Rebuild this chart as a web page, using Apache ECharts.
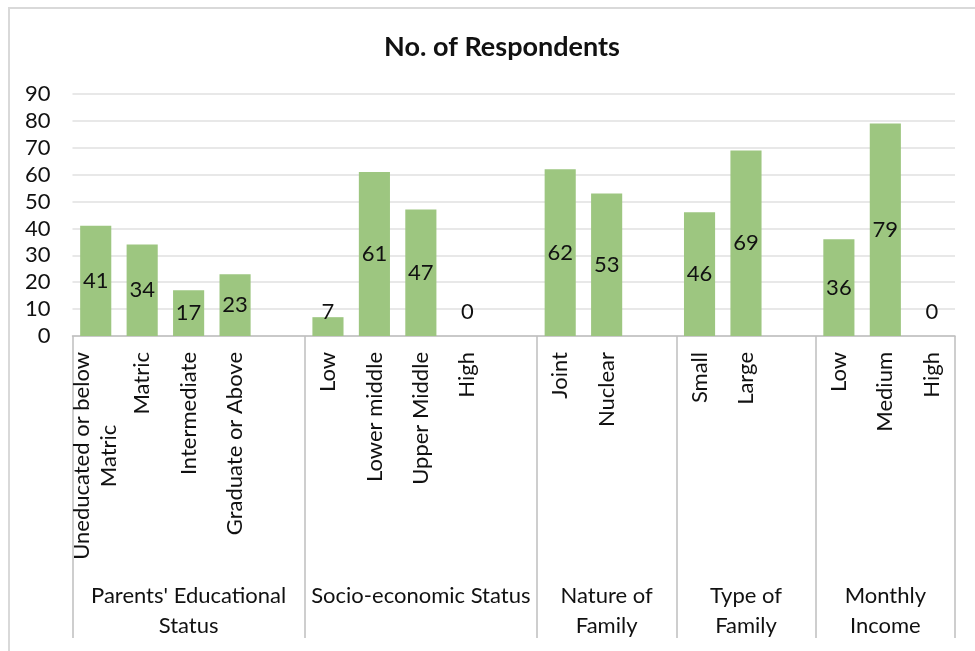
<!DOCTYPE html>
<html>
<head>
<meta charset="utf-8">
<script src="https://cdn.jsdelivr.net/npm/echarts@6/dist/echarts.min.js"></script>
<style>
  html, body { margin: 0; padding: 0; background: #fff; }
  #frame { position: absolute; left: 8px; top: 7px; width: 1200px; height: 900px;
           border-left: 2px solid #d9d9d9; border-top: 2px solid #d9d9d9; box-sizing: border-box; }
  #chart { position: absolute; left: 0; top: 0; width: 975px; height: 651px; }
</style>
</head>
<body>
<div id="frame"></div>
<div id="chart"></div>
<script>
// Survey breakdown: number of respondents per category
const groupNames = ["Parents' Educational\nStatus", "Socio-economic Status", "Nature of\nFamily", "Type of\nFamily", "Monthly\nIncome"];

const educationLabels = ['Uneducated or below\nMatric', 'Matric', 'Intermediate', 'Graduate or Above'];
const educationCounts = [41, 34, 17, 23];

const socioLabels = ['Low', 'Lower middle', 'Upper Middle', 'High'];
const socioCounts = [7, 61, 47, 0];

const natureLabels = ['Joint', 'Nuclear'];
const natureCounts = [62, 53];

const typeLabels = ['Small', 'Large'];
const typeCounts = [46, 69];

const incomeLabels = ['Low', 'Medium', 'High'];
const incomeCounts = [36, 79, 0];

const yTicks = [0, 10, 20, 30, 40, 50, 60, 70, 80, 90];

// Build one flat category list; each group except the last is followed by a blank slot
const groups = [
  [educationLabels, educationCounts],
  [socioLabels, socioCounts],
  [natureLabels, natureCounts],
  [typeLabels, typeCounts],
  [incomeLabels, incomeCounts]
];
const categories = [];
const values = [];
const groupStarts = [];
const groupMid = {};
groups.forEach(function (g, gi) {
  const start = categories.length;
  groupStarts.push(start);
  g[0].forEach(function (name, i) { categories.push(name); values.push(g[1][i]); });
  if (gi < groups.length - 1) { categories.push(''); values.push('-'); }
  const span = categories.length - start;
  groupMid[start + Math.floor(span / 2)] = groupNames[gi];
});

const FONT = 'Lato';
const TEXT = '#111';
const LINE = '#bfbfbf';

const chart = echarts.init(document.getElementById('chart'), null, { renderer: 'canvas' });
chart.setOption({
  animation: false,
  backgroundColor: 'transparent',
  textStyle: { fontFamily: FONT },
  title: {
    text: 'No. of Respondents',
    left: 497,
    top: 29,
    textAlign: 'center',
    textStyle: { fontFamily: FONT, fontSize: 27, fontWeight: 'bold', color: TEXT }
  },
  grid: { left: 72.5, right: 20, top: 94, bottom: 315, containLabel: false },
  xAxis: [
    {
      type: 'category',
      data: categories,
      position: 'bottom',
      axisLine: { lineStyle: { color: LINE, width: 1.5 } },
      axisTick: {
        show: true,
        length: 302,
        interval: function (index) { return groupStarts.indexOf(index) !== -1; },
        lineStyle: { color: LINE, width: 1.5 }
      },
      axisLabel: {
        interval: 0,
        rotate: 90,
        margin: 16,
        fontFamily: FONT,
        fontSize: 22,
        color: TEXT,
        lineHeight: 27,
        formatter: function (v) {
          return v ? v.split('\n').map(function (s) { return '{c|' + s + '}'; }).join('\n') : '';
        },
        rich: { c: { align: 'center', fontFamily: FONT, fontSize: 22, color: TEXT, lineHeight: 27 } }
      }
    },
    {
      type: 'category',
      data: categories,
      position: 'bottom',
      axisLine: { show: false },
      axisTick: { show: false },
      axisLabel: {
        interval: 0,
        margin: 245,
        fontFamily: FONT,
        fontSize: 22,
        color: TEXT,
        lineHeight: 30,
        align: 'center',
        formatter: function (v, i) { return groupMid[i] || ''; }
      }
    }
  ],
  yAxis: {
    type: 'value',
    min: yTicks[0],
    max: yTicks[yTicks.length - 1],
    interval: 10,
    axisLine: { show: false },
    axisTick: { show: false },
    splitLine: { lineStyle: { color: '#e0e0e0', width: 1.5 } },
    axisLabel: { margin: 22, fontFamily: FONT, fontSize: 22, color: TEXT }
  },
  series: [{
    type: 'bar',
    xAxisIndex: 0,
    data: values.map(function (v) {
      if (v !== '-' && v < 10) {
        return { value: v, label: { position: 'insideBottom', distance: 13 } };
      }
      return v;
    }),
    barWidth: '67%',
    itemStyle: { color: '#9dc680' },
    label: {
      show: true,
      position: 'inside',
      fontFamily: FONT,
      fontSize: 22,
      color: TEXT,
      formatter: function (p) { return p.value; }
    }
  }]
});
</script>
</body>
</html>
